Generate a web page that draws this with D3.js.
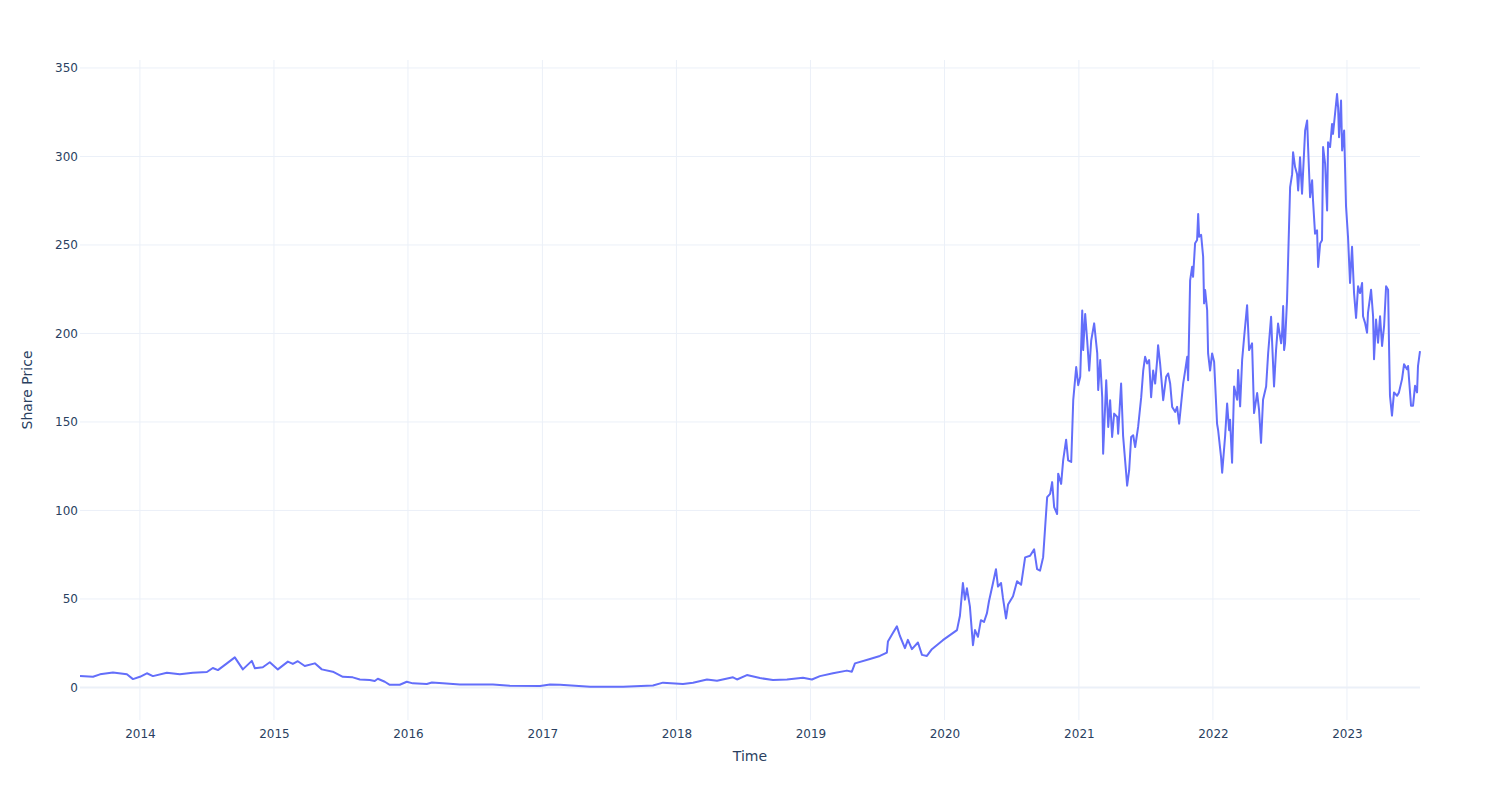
<!DOCTYPE html>
<html>
<head>
<meta charset="utf-8">
<script src="https://cdn.jsdelivr.net/npm/d3@7"></script>
<style>
  body { margin: 0; background: #fff; }
  text { font-family: "DejaVu Sans", verdana, arial, sans-serif; fill: #2a3f5f; }
</style>
</head>
<body>
<script>
// time as decimal years
const years = [
  2013.553, 2013.650, 2013.702, 2013.799, 2013.903, 2013.948, 2014.000, 2014.052, 2014.097, 2014.201,
  2014.298, 2014.395, 2014.500, 2014.544, 2014.582, 2014.649, 2014.708, 2014.768, 2014.835, 2014.858,
  2014.917, 2014.969, 2015.029, 2015.104, 2015.141, 2015.178, 2015.230, 2015.305, 2015.357, 2015.439,
  2015.514, 2015.588, 2015.641, 2015.715, 2015.752, 2015.775, 2015.827, 2015.864, 2015.939, 2015.991,
  2016.036, 2016.140, 2016.178, 2016.259, 2016.386, 2016.632, 2016.759, 2016.983, 2017.057, 2017.132,
  2017.356, 2017.602, 2017.825, 2017.900, 2018.049, 2018.124, 2018.228, 2018.303, 2018.422, 2018.452,
  2018.526, 2018.623, 2018.720, 2018.825, 2018.944, 2019.011, 2019.071, 2019.168, 2019.272, 2019.309,
  2019.332, 2019.444, 2019.518, 2019.570, 2019.578, 2019.615, 2019.645, 2019.667, 2019.705, 2019.727,
  2019.757, 2019.802, 2019.832, 2019.869, 2019.906, 2019.988, 2020.093, 2020.115, 2020.137, 2020.152,
  2020.167, 2020.189, 2020.212, 2020.227, 2020.249, 2020.271, 2020.294, 2020.316, 2020.331, 2020.361,
  2020.383, 2020.398, 2020.421, 2020.435, 2020.458, 2020.473, 2020.510, 2020.540, 2020.570, 2020.600,
  2020.637, 2020.667, 2020.689, 2020.711, 2020.734, 2020.749, 2020.764, 2020.786, 2020.801, 2020.816,
  2020.838, 2020.846, 2020.868, 2020.883, 2020.905, 2020.920, 2020.943, 2020.958, 2020.980, 2020.995,
  2021.010, 2021.025, 2021.032, 2021.047, 2021.062, 2021.077, 2021.092, 2021.114, 2021.137, 2021.144,
  2021.159, 2021.174, 2021.181, 2021.204, 2021.219, 2021.233, 2021.248, 2021.263, 2021.286, 2021.293,
  2021.315, 2021.330, 2021.353, 2021.360, 2021.375, 2021.390, 2021.405, 2021.420, 2021.442, 2021.465,
  2021.480, 2021.494, 2021.509, 2021.524, 2021.539, 2021.554, 2021.569, 2021.584, 2021.591, 2021.606,
  2021.629, 2021.651, 2021.666, 2021.681, 2021.696, 2021.718, 2021.733, 2021.748, 2021.763, 2021.778,
  2021.793, 2021.808, 2021.815, 2021.830, 2021.845, 2021.852, 2021.867, 2021.882, 2021.890, 2021.897,
  2021.912, 2021.927, 2021.934, 2021.942, 2021.957, 2021.964, 2021.979, 2021.994, 2022.009, 2022.031,
  2022.039, 2022.061, 2022.069, 2022.091, 2022.106, 2022.121, 2022.128, 2022.143, 2022.158, 2022.181,
  2022.188, 2022.203, 2022.218, 2022.233, 2022.255, 2022.270, 2022.292, 2022.307, 2022.330, 2022.344,
  2022.359, 2022.374, 2022.397, 2022.412, 2022.434, 2022.441, 2022.456, 2022.471, 2022.486, 2022.509,
  2022.516, 2022.524, 2022.531, 2022.538, 2022.553, 2022.561, 2022.576, 2022.591, 2022.598, 2022.613,
  2022.628, 2022.636, 2022.650, 2022.665, 2022.688, 2022.703, 2022.710, 2022.725, 2022.740, 2022.747,
  2022.762, 2022.777, 2022.785, 2022.800, 2022.814, 2022.822, 2022.837, 2022.852, 2022.859, 2022.874,
  2022.889, 2022.896, 2022.911, 2022.926, 2022.934, 2022.941, 2022.956, 2022.964, 2022.979, 2022.993,
  2023.008, 2023.023, 2023.038, 2023.053, 2023.068, 2023.083, 2023.098, 2023.113, 2023.120, 2023.135,
  2023.150, 2023.157, 2023.180, 2023.195, 2023.202, 2023.217, 2023.232, 2023.247, 2023.262, 2023.277,
  2023.292, 2023.307, 2023.314, 2023.321, 2023.336, 2023.351, 2023.374, 2023.388, 2023.411, 2023.426,
  2023.448, 2023.456, 2023.478, 2023.493, 2023.508, 2023.523, 2023.530, 2023.545
];

const prices = [
  6.4, 6.0, 7.4, 8.5, 7.4, 4.7, 6.0, 8.0, 6.4, 8.3,
  7.4, 8.3, 8.7, 11.0, 9.8, 13.6, 17.0, 10.2, 15.0, 10.8,
  11.4, 14.2, 10.2, 14.6, 13.3, 14.8, 12.1, 13.6, 10.2, 8.9,
  6.0, 5.7, 4.5, 4.2, 3.6, 4.9, 3.2, 1.5, 1.5, 3.2,
  2.3, 1.9, 2.8, 2.3, 1.7, 1.7, 0.9, 0.8, 1.7, 1.5,
  0.4, 0.4, 1.1, 2.7, 1.9, 2.7, 4.5, 3.8, 5.7, 4.5,
  7.0, 5.3, 4.2, 4.5, 5.5, 4.5, 6.4, 8.0, 9.5, 8.9,
  13.6, 16.1, 17.8, 19.7, 25.9, 30.7, 34.5, 29.2, 22.2, 26.9,
  21.6, 25.4, 18.4, 17.8, 21.6, 26.7, 32.4, 40.5, 59.0, 49.6,
  56.0, 45.8, 23.9, 32.4, 28.6, 38.0, 37.0, 42.0, 48.7, 59.0,
  66.8, 57.0, 59.0, 50.6, 39.0, 46.8, 51.5, 60.0, 58.0, 73.5,
  74.4, 78.0, 66.8, 66.0, 73.6, 90.6, 107.5, 109.4, 116.0, 101.9,
  98.0, 120.8, 115.0, 128.3, 140.0, 128.3, 127.4, 162.3, 181.0, 170.8,
  175.5, 213.0, 190.6, 211.0, 196.0, 179.0, 196.0, 205.7, 188.7, 168.0,
  185.0, 164.0, 132.0, 173.6, 147.2, 162.3, 141.5, 154.7, 152.8, 143.4,
  171.7, 142.0, 120.8, 114.0, 122.6, 141.5, 142.5, 135.8, 147.2, 164.0,
  179.0, 186.8, 183.0, 185.0, 164.0, 179.0, 171.7, 185.0, 193.4, 183.0,
  162.3, 175.5, 177.4, 171.7, 158.5, 155.7, 158.5, 149.0, 160.4, 171.7,
  179.0, 186.8, 173.6, 230.0, 237.7, 232.0, 251.0, 252.8, 267.5, 254.7,
  255.7, 243.4, 217.0, 224.5, 213.2, 188.7, 179.0, 188.7, 184.0, 149.0,
  145.3, 130.0, 121.3, 142.0, 160.4, 145.3, 151.3, 127.0, 170.0, 162.5,
  179.4, 158.8, 185.0, 198.0, 216.0, 190.6, 194.4, 155.0, 166.3, 157.0,
  138.2, 162.5, 170.0, 188.8, 209.4, 196.3, 170.0, 190.6, 205.6, 194.4,
  200.0, 215.5, 190.6, 194.4, 218.8, 241.4, 282.7, 290.0, 302.4, 294.0,
  290.0, 280.8, 299.6, 279.0, 314.7, 320.3, 305.3, 277.0, 286.5, 275.0,
  256.4, 258.3, 237.6, 250.8, 252.6, 305.3, 296.0, 269.5, 308.0, 305.3,
  318.4, 312.8, 324.0, 335.3, 327.8, 310.9, 331.6, 303.4, 314.7, 272.0,
  254.5, 228.5, 249.0, 222.8, 208.8, 226.6, 222.8, 228.5, 209.7, 206.0,
  200.4, 211.6, 224.7, 209.7, 185.4, 207.9, 194.8, 209.7, 192.9, 204.1,
  226.6, 224.7, 192.9, 164.8, 153.6, 166.7, 164.8, 166.7, 174.2, 182.6,
  179.8, 181.6, 159.2, 159.2, 170.4, 166.7, 181.6, 190.0
];

const yTicks = [0, 50, 100, 150, 200, 250, 300, 350];
const xTickYears = [2014, 2015, 2016, 2017, 2018, 2019, 2020, 2021, 2022, 2023];

const width = 1500,
  height = 800,
  margin = { left: 80, right: 80, top: 60, bottom: 80 };

// decimal year -> Date
const toDate = t => {
  const y = Math.floor(t);
  const a = Date.UTC(y, 0, 1),
    b = Date.UTC(y + 1, 0, 1);
  return new Date(a + (t - y) * (b - a));
};

const data = years.map((t, i) => ({ date: toDate(t), price: prices[i] }));

const svg = d3
  .select("body")
  .append("svg")
  .attr("width", width)
  .attr("height", height);

svg.append("rect").attr("width", width).attr("height", height).attr("fill", "#fff");

const xScale = d3
  .scaleUtc()
  .domain(d3.extent(data, d => d.date))
  .range([margin.left, width - margin.right]);

const yScale = d3
  .scaleLinear()
  .domain([-18.4, 354.5])
  .range([height - margin.bottom, margin.top]);

// grid
const grid = svg.append("g");
grid
  .selectAll("line.vx")
  .data(xTickYears)
  .join("line")
  .attr("x1", d => xScale(toDate(d)))
  .attr("x2", d => xScale(toDate(d)))
  .attr("y1", margin.top)
  .attr("y2", height - margin.bottom)
  .attr("stroke", "#ebf0f8")
  .attr("stroke-width", 1);

grid
  .selectAll("line.hy")
  .data(yTicks.filter(d => d !== 0))
  .join("line")
  .attr("x1", margin.left)
  .attr("x2", width - margin.right)
  .attr("y1", d => yScale(d))
  .attr("y2", d => yScale(d))
  .attr("stroke", "#ebf0f8")
  .attr("stroke-width", 1);

// zero line
grid
  .append("line")
  .attr("x1", margin.left)
  .attr("x2", width - margin.right)
  .attr("y1", yScale(0))
  .attr("y2", yScale(0))
  .attr("stroke", "#ebf0f8")
  .attr("stroke-width", 2);

// axes
const xAxis = d3
  .axisBottom(xScale)
  .tickValues(xTickYears.map(toDate))
  .tickFormat(d3.utcFormat("%Y"))
  .tickSize(0)
  .tickPadding(9);

svg
  .append("g")
  .attr("transform", `translate(0, ${height - margin.bottom})`)
  .call(xAxis)
  .call(g => g.select(".domain").remove())
  .selectAll("text")
  .attr("font-size", 12)
  .attr("font-family", null)
  .attr("fill", "#2a3f5f");

const yAxis = d3.axisLeft(yScale).tickValues(yTicks).tickSize(0).tickPadding(2);

svg
  .append("g")
  .attr("transform", `translate(${margin.left}, 0)`)
  .call(yAxis)
  .call(g => g.select(".domain").remove())
  .selectAll("text")
  .attr("font-size", 12)
  .attr("font-family", null)
  .attr("fill", "#2a3f5f");

// line
const line = d3
  .line()
  .x(d => xScale(d.date))
  .y(d => yScale(d.price));

svg
  .append("path")
  .datum(data)
  .attr("d", line)
  .attr("fill", "none")
  .attr("stroke", "#636efa")
  .attr("stroke-width", 2)
  .attr("stroke-linejoin", "round");

// titles
svg
  .append("text")
  .attr("x", (margin.left + width - margin.right) / 2)
  .attr("y", 761)
  .attr("text-anchor", "middle")
  .attr("font-size", 14)
  .text("Time");

svg
  .append("text")
  .attr("transform", `translate(32, ${(margin.top + height - margin.bottom) / 2}) rotate(-90)`)
  .attr("text-anchor", "middle")
  .attr("font-size", 14)
  .text("Share Price");
</script>
</body>
</html>
